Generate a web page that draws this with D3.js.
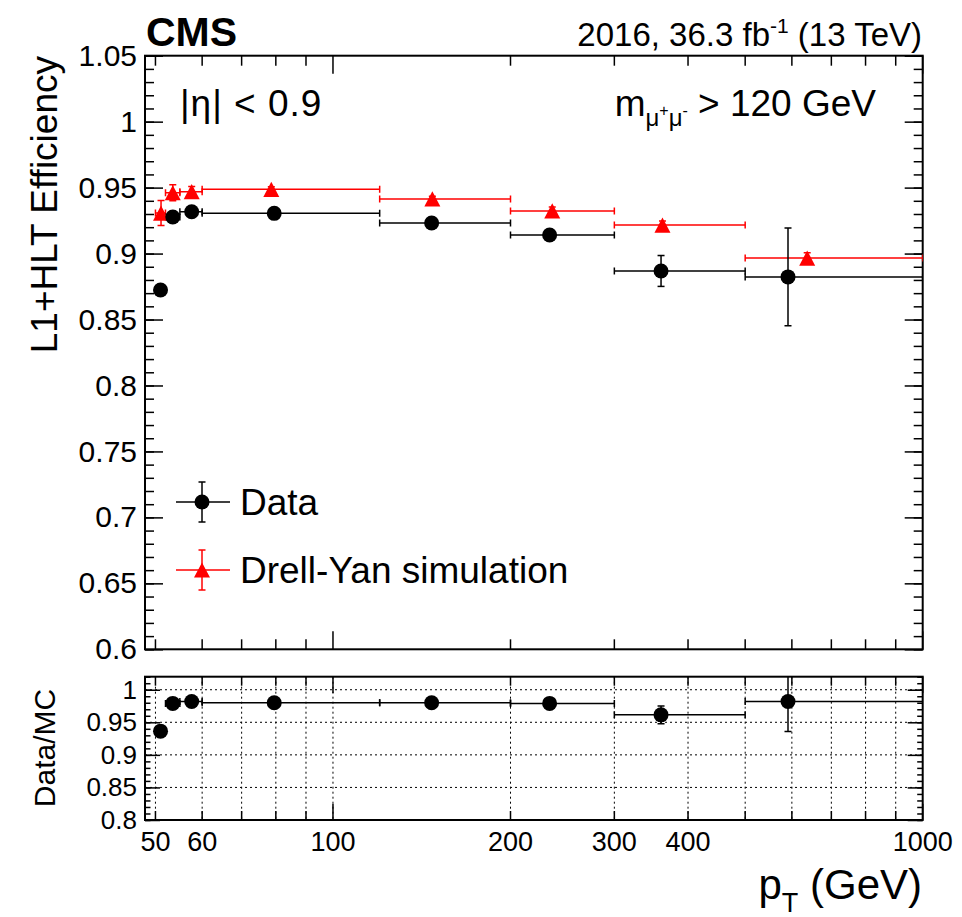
<!DOCTYPE html>
<html>
<head>
<meta charset="utf-8">
<script src="https://cdn.jsdelivr.net/npm/d3@7"></script>
<style>
  body { margin: 0; background: #fff; }
  text { font-family: "Liberation Sans", Arial, Helvetica, sans-serif; fill: #000; }
</style>
</head>
<body>
<div id="chart"></div>
<script>
// pT bins (GeV)
var binLow  = [50, 52, 55, 60, 120, 200, 300, 500];
var binHigh = [52, 55, 60, 120, 200, 300, 500, 1000];

// data efficiency
var dataPt  = [51, 53.5, 57.6, 79.5, 147, 233, 360, 591];
var dataEff = [0.8724, 0.9277, 0.9317, 0.9305, 0.9232, 0.9141, 0.8868, 0.8823];
var dataErr = [0.003, 0.003, 0.002, 0.002, 0.003, 0.004, 0.0117, 0.037];

// Drell-Yan simulation efficiency
var mcPt  = [51.1, 53.5, 57.6, 78.6, 147.4, 235.4, 362, 637];
var mcEff = [0.9307, 0.9461, 0.9469, 0.9487, 0.9414, 0.9323, 0.9216, 0.8966];
var mcErr = [0.0095, 0.006, 0.004, 0.002, 0.002, 0.003, 0.003, 0.004];

// data / MC
var ratio    = [0.9364, 0.979, 0.982, 0.980, 0.980, 0.979, 0.9614, 0.982];
var ratioErr = [0.006, 0.003, 0.003, 0.002, 0.002, 0.003, 0.0137, 0.046];

var xTicks = [50, 60, 70, 80, 90, 100, 200, 300, 400, 500, 600, 700, 800, 900, 1000];
var xTickLabels = [50, 60, 100, 200, 300, 400, 1000];
var yTopLabels = [0.6, 0.65, 0.7, 0.75, 0.8, 0.85, 0.9, 0.95, 1, 1.05];
var yRatioLabels = [0.8, 0.85, 0.9, 0.95, 1];

var W = 962, H = 917;
var fontBase = '"Liberation Sans", Arial, Helvetica, sans-serif';

var svg = d3.select("#chart").append("svg")
  .attr("width", W).attr("height", H);

var x = d3.scaleLog().domain([48, 1000]).range([145, 922.7]);
var yTop = d3.scaleLinear().domain([0.6, 1.05]).range([649.3, 55.7]);
var yRat = d3.scaleLinear().domain([0.8, 1.02]).range([820, 676.7]);

var x0 = x.range()[0], x1 = x.range()[1];

// minor tick values
function range01(a, b, step) {
  var out = [];
  var n = Math.round((b - a) / step);
  for (var i = 0; i <= n; i++) out.push(+(a + i * step).toFixed(4));
  return out;
}
var yTopMinor = range01(0.6, 1.05, 0.01);
var yRatMinor = range01(0.8, 1.02, 0.01);

// ---- clip paths
var defs = svg.append("defs");
defs.append("clipPath").attr("id", "clipTop").append("rect")
  .attr("x", x0).attr("y", yTop(1.05)).attr("width", x1 - x0).attr("height", yTop(0.6) - yTop(1.05));
defs.append("clipPath").attr("id", "clipRat").append("rect")
  .attr("x", x0).attr("y", yRat(1.02)).attr("width", x1 - x0).attr("height", yRat(0.8) - yRat(1.02));

// ---- ratio grid (dotted)
var grid = svg.append("g").attr("stroke", "#000").attr("stroke-width", 1)
  .attr("stroke-dasharray", "2,3");
grid.selectAll("line.gv").data(xTicks.filter(function (d) { return d < 1000; }))
  .enter().append("line")
  .attr("x1", function (d) { return x(d); }).attr("x2", function (d) { return x(d); })
  .attr("y1", yRat(1.02)).attr("y2", yRat(0.8));
grid.selectAll("line.gh").data([0.85, 0.9, 0.95, 1])
  .enter().append("line")
  .attr("x1", x0).attr("x2", x1)
  .attr("y1", function (d) { return yRat(d); }).attr("y2", function (d) { return yRat(d); });

// ---- axes (ticks pointing inward, ROOT style)
function addXTicks(yScale, len) {
  var yb = yScale.range()[0], yt = yScale.range()[1];
  var sizes = function (d) { return (d === 100 || d === 1000) ? len * 1.8 : len; };
  [ [yb, -1], [yt, 1] ].forEach(function (s) {
    svg.append("g").selectAll("line").data(xTicks).enter().append("line")
      .attr("x1", function (d) { return x(d); }).attr("x2", function (d) { return x(d); })
      .attr("y1", s[0]).attr("y2", function (d) { return s[0] + s[1] * sizes(d); })
      .attr("stroke", "#000").attr("stroke-width", 1.5);
  });
}
addXTicks(yTop, 10);
addXTicks(yRat, 9);

function addYAxis(yScale, minor, major, minorLen, majorLen, fmt, fs) {
  var axL = svg.append("g").attr("transform", "translate(" + x0 + ",0)")
    .call(d3.axisLeft(yScale).tickValues(minor).tickSize(-minorLen).tickFormat(""));
  axL.append("g").call(d3.axisLeft(yScale).tickValues(major).tickSize(-majorLen)
    .tickPadding(8).tickFormat(fmt));
  var axR = svg.append("g").attr("transform", "translate(" + x1 + ",0)")
    .call(d3.axisRight(yScale).tickValues(minor).tickSize(-minorLen).tickFormat(""));
  axR.append("g").call(d3.axisRight(yScale).tickValues(major).tickSize(-majorLen).tickFormat(""));
  [axL, axR].forEach(function (a) {
    a.selectAll(".domain").remove();
    a.selectAll("line").attr("stroke", "#000").attr("stroke-width", 1.5);
    a.selectAll("text").style("font-family", fontBase).style("font-size", fs + "px")
      .attr("fill", "#000");
  });
}
addYAxis(yTop, yTopMinor, yTopLabels, 9, 18, function (d) { return d3.format("")(d); }, 30);
addYAxis(yRat, yRatMinor, yRatioLabels, 5.5, 15, function (d) { return d3.format("")(d); }, 26);

// x tick labels
svg.append("g").selectAll("text").data(xTickLabels).enter().append("text")
  .attr("x", function (d) { return x(d); }).attr("y", 851)
  .attr("text-anchor", "middle").style("font-size", "27px")
  .text(function (d) { return d; });

// ---- frames
svg.append("rect").attr("x", x0).attr("y", yTop(1.05))
  .attr("width", x1 - x0).attr("height", yTop(0.6) - yTop(1.05))
  .attr("fill", "none").attr("stroke", "#000").attr("stroke-width", 2);
svg.append("rect").attr("x", x0).attr("y", yRat(1.02))
  .attr("width", x1 - x0).attr("height", yRat(0.8) - yRat(1.02))
  .attr("fill", "none").attr("stroke", "#000").attr("stroke-width", 2);

// ---- marker helpers
var cap = 3.5;
function errBars(g, xs, ys, errs, lo, hi, ys2, color) {
  xs.forEach(function (px, i) {
    var cx = x(px), cy = ys2(ys[i]);
    var xl = x(lo[i]), xr = x(hi[i]);
    var yt = ys2(ys[i] + errs[i]), yb = ys2(ys[i] - errs[i]);
    var sub = g.append("g").attr("stroke", color).attr("stroke-width", 1.5);
    sub.append("line").attr("x1", xl).attr("x2", xr).attr("y1", cy).attr("y2", cy);
    sub.append("line").attr("x1", xl).attr("x2", xl).attr("y1", cy - cap).attr("y2", cy + cap);
    sub.append("line").attr("x1", xr).attr("x2", xr).attr("y1", cy - cap).attr("y2", cy + cap);
    sub.append("line").attr("x1", cx).attr("x2", cx).attr("y1", yt).attr("y2", yb);
    sub.append("line").attr("x1", cx - cap).attr("x2", cx + cap).attr("y1", yt).attr("y2", yt);
    sub.append("line").attr("x1", cx - cap).attr("x2", cx + cap).attr("y1", yb).attr("y2", yb);
  });
}
function triPath(cx, cy, s) {
  var h = s * 0.95;
  return "M" + (cx - s / 2) + "," + (cy + h / 2) + "L" + (cx + s / 2) + "," + (cy + h / 2) +
    "L" + cx + "," + (cy - h / 2) + "Z";
}

// ---- top panel
var gTop = svg.append("g").attr("clip-path", "url(#clipTop)");
errBars(gTop, mcPt, mcEff, mcErr, binLow, binHigh, yTop, "#ff0000");
errBars(gTop, dataPt, dataEff, dataErr, binLow, binHigh, yTop, "#000");
gTop.selectAll("path.mc").data(mcPt).enter().append("path")
  .attr("d", function (d, i) { return triPath(x(d), yTop(mcEff[i]), 16); })
  .attr("fill", "#ff0000");
gTop.selectAll("circle.data").data(dataPt).enter().append("circle")
  .attr("cx", function (d) { return x(d); })
  .attr("cy", function (d, i) { return yTop(dataEff[i]); })
  .attr("r", 7.5).attr("fill", "#000");

// ---- ratio panel
var gRat = svg.append("g").attr("clip-path", "url(#clipRat)");
errBars(gRat, dataPt, ratio, ratioErr, binLow, binHigh, yRat, "#000");
gRat.selectAll("circle").data(dataPt).enter().append("circle")
  .attr("cx", function (d) { return x(d); })
  .attr("cy", function (d, i) { return yRat(ratio[i]); })
  .attr("r", 7.5).attr("fill", "#000");

// ---- legend
var leg = svg.append("g");
function legEntry(cy, color, label, isTri) {
  var g = leg.append("g").attr("stroke", color).attr("stroke-width", 1.5);
  g.append("line").attr("x1", 176).attr("x2", 230).attr("y1", cy).attr("y2", cy);
  g.append("line").attr("x1", 202).attr("x2", 202).attr("y1", cy - 20).attr("y2", cy + 20);
  g.append("line").attr("x1", 202 - cap).attr("x2", 202 + cap).attr("y1", cy - 20).attr("y2", cy - 20);
  g.append("line").attr("x1", 202 - cap).attr("x2", 202 + cap).attr("y1", cy + 20).attr("y2", cy + 20);
  if (isTri) leg.append("path").attr("d", triPath(202, cy, 16)).attr("fill", color);
  else leg.append("circle").attr("cx", 202).attr("cy", cy).attr("r", 7.5).attr("fill", color);
  leg.append("text").attr("x", 240).attr("y", cy + 13).style("font-size", "37px").text(label);
}
legEntry(502, "#000", "Data", false);
legEntry(570, "#ff0000", "Drell-Yan simulation", true);

// ---- labels
svg.append("text").attr("x", 146).attr("y", 46)
  .style("font-size", "41px").style("font-weight", "bold").text("CMS");

var lumi = svg.append("text").attr("x", 922).attr("y", 46).attr("text-anchor", "end")
  .style("font-size", "33px");
lumi.append("tspan").text("2016, 36.3 fb");
lumi.append("tspan").attr("dy", -13).style("font-size", "21px").text("-1");
lumi.append("tspan").attr("dy", 13).text(" (13 TeV)");

svg.append("text").attr("x", 180).attr("y", 116).style("font-size", "37px")
  .style("letter-spacing", "1px")
  .text("|\u03b7| < 0.9");

var mm = svg.append("text").attr("x", 876).attr("y", 116).attr("text-anchor", "end")
  .style("font-size", "37px");
mm.append("tspan").text("m");
mm.append("tspan").attr("dy", 10).style("font-size", "24px").text("\u03bc");
mm.append("tspan").attr("dy", -10).style("font-size", "16px").text("+");
mm.append("tspan").attr("dy", 10).style("font-size", "24px").text("\u03bc");
mm.append("tspan").attr("dy", -10).style("font-size", "16px").text("-");
mm.append("tspan").attr("dy", 0).text(" > 120 GeV");

svg.append("text")
  .attr("transform", "translate(57,56) rotate(-90)")
  .attr("text-anchor", "end").style("font-size", "37px")
  .text("L1+HLT Efficiency");

svg.append("text")
  .attr("transform", "translate(55,748) rotate(-90)")
  .attr("text-anchor", "middle").style("font-size", "30px")
  .text("Data/MC");

var xt = svg.append("text").attr("x", 922).attr("y", 899).attr("text-anchor", "end")
  .style("font-size", "42px");
xt.append("tspan").text("p");
xt.append("tspan").attr("dy", 13).style("font-size", "27px").text("T");
xt.append("tspan").attr("dy", -13).text(" (GeV)");
</script>
</body>
</html>
